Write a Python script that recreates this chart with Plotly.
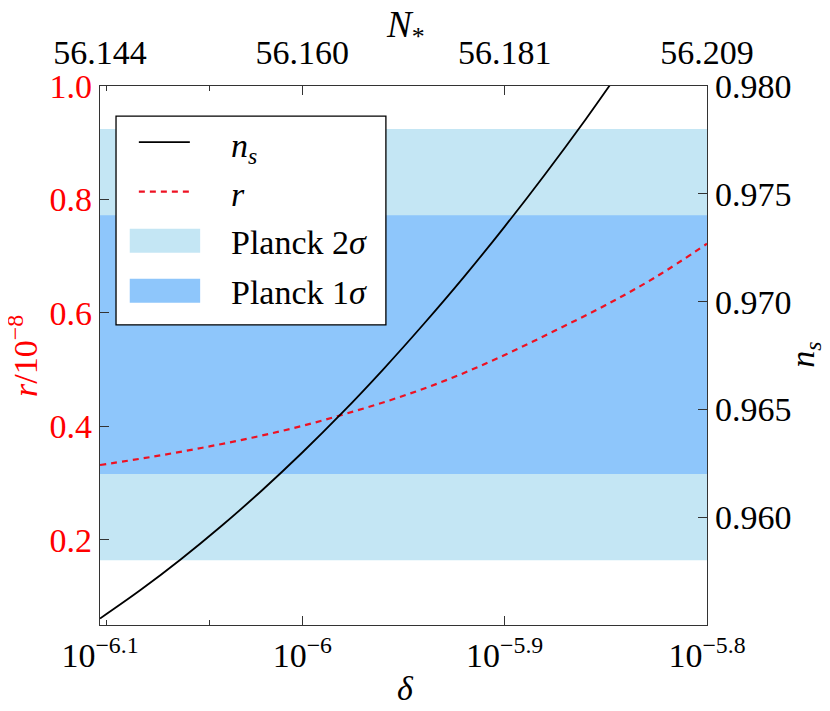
import plotly.graph_objects as go

# --- data ------------------------------------------------------------------
log_delta_ns = [-6.10, -6.08, -6.06, -6.04, -6.02, -6.00, -5.98, -5.96, -5.94,
                -5.92, -5.90, -5.88, -5.86, -5.848]
ns_values = [0.95530, 0.95662, 0.95805, 0.95959, 0.96124, 0.96300, 0.96487, 0.96686,
             0.96896, 0.97116, 0.97348, 0.97591, 0.97845, 0.98004]

log_delta_r = [-6.10, -6.075, -6.05, -6.025, -6.00, -5.975, -5.95, -5.925, -5.90,
               -5.875, -5.85, -5.825, -5.80]
r_values = [0.332, 0.346, 0.362, 0.380, 0.401, 0.426, 0.454, 0.487, 0.526,
            0.569, 0.614, 0.664, 0.722]

planck_2sigma = [0.958, 0.978]
planck_1sigma = [0.962, 0.974]

x_ticks_log = [-6.1, -6.0, -5.9, -5.8]
x_tick_labels = ["10<sup>−6.1</sup>", "10<sup>−6</sup>", "10<sup>−5.9</sup>", "10<sup>−5.8</sup>"]
n_star_labels = ["56.144", "56.160", "56.181", "56.209"]
x_minor = [8e-7, 9e-7]

r_ticks = [0.2, 0.4, 0.6, 0.8, 1.0]
ns_ticks = [0.960, 0.965, 0.970, 0.975, 0.980]

FONT = "Liberation Serif"
FS = 34
C_2S = "#c4e6f4"
C_1S = "#8ec6fb"
RED = "#ee1122"
AX = "#333333"

delta_ns = [10 ** v for v in log_delta_ns]
delta_r = [10 ** v for v in log_delta_r]
x_tickvals = [10 ** v for v in x_ticks_log]

fig = go.Figure()
fig.add_trace(go.Scatter(x=delta_ns, y=ns_values, mode="lines", yaxis="y2",
                         line=dict(color="black", width=1.8, shape="spline"),
                         showlegend=False))
fig.add_trace(go.Scatter(x=delta_r, y=r_values, mode="lines", yaxis="y",
                         line=dict(color=RED, width=2.2, dash="6px,5px", shape="spline"),
                         showlegend=False))
# invisible trace so the top axis is drawn
fig.add_trace(go.Scatter(x=x_tickvals, y=[None] * 4, xaxis="x2", yaxis="y",
                         showlegend=False, hoverinfo="skip"))

shapes = []
# Planck bands on the n_s axis
for band, col in [(planck_2sigma, C_2S), (planck_1sigma, C_1S)]:
    shapes.append(dict(type="rect", xref="paper", yref="y2", x0=0, x1=1,
                       y0=band[0], y1=band[1], fillcolor=col, line_width=0, layer="below"))

# hand-drawn legend (matplotlib style box)
shapes.append(dict(type="rect", xref="paper", yref="paper", x0=0.0264, x1=0.471,
                   y0=0.557, y1=0.944, fillcolor="white", line=dict(color="black", width=1.3)))
shapes.append(dict(type="line", xref="paper", yref="paper", x0=0.064, x1=0.148,
                   y0=0.896, y1=0.896, line=dict(color="black", width=1.8)))
shapes.append(dict(type="line", xref="paper", yref="paper", x0=0.064, x1=0.148,
                   y0=0.804, y1=0.804, line=dict(color=RED, width=2.2, dash="6px,5px")))
shapes.append(dict(type="rect", xref="paper", yref="paper", x0=0.049, x1=0.165,
                   y0=0.6905, y1=0.735, fillcolor=C_2S, line_width=0))
shapes.append(dict(type="rect", xref="paper", yref="paper", x0=0.049, x1=0.165,
                   y0=0.598, y1=0.6423, fillcolor=C_1S, line_width=0))

legend_text = ["<i>n<sub>s</sub></i>", "<i>r</i>", "Planck 2<i>σ</i>", "Planck 1<i>σ</i>"]
legend_y = [0.885, 0.798, 0.709, 0.617]
annotations = [dict(text=t, x=0.2126, y=yy, xref="paper", yref="paper", xanchor="left",
                    yanchor="middle", showarrow=False, font=dict(family=FONT, size=FS, color="black"))
               for t, yy in zip(legend_text, legend_y)]

# axis titles placed by hand
annotations += [
    dict(text="<i>N</i><sub>*</sub>", x=0.503, y=1.108, xref="paper", yref="paper",
         showarrow=False, xanchor="center", yanchor="middle", font=dict(size=37)),
    dict(text="<i>δ</i>", x=0.503, y=-0.117, xref="paper", yref="paper",
         showarrow=False, xanchor="center", yanchor="middle"),
    dict(text="<i>r</i>/10<sup>−8</sup>", x=-0.127, y=0.499, xref="paper", yref="paper",
         showarrow=False, xanchor="center", yanchor="middle", textangle=-90,
         font=dict(color="red")),
    dict(text="<i>n<sub>s</sub></i>", x=1.161, y=0.501, xref="paper", yref="paper",
         showarrow=False, xanchor="center", yanchor="middle", textangle=-90),
]

axis_common = dict(showline=True, linecolor=AX, linewidth=1.3, ticks="inside", ticklen=9,
                   tickcolor=AX, showgrid=False, zeroline=False, automargin=False)

# the page body adds an 8px offset, so the figure is shifted back by that much
fig.update_layout(
    width=822, height=703, autosize=False,
    margin=dict(l=92, r=123, t=78, b=86),
    paper_bgcolor="white", plot_bgcolor="white",
    font=dict(family=FONT, size=FS, color="black"),
    shapes=shapes, annotations=annotations,
    xaxis=dict(type="log", range=[-6.1, -5.8], tickvals=x_tickvals, ticktext=x_tick_labels,
               minor=dict(tickvals=x_minor, ticks="inside", ticklen=5, tickcolor=AX),
               **axis_common),
    xaxis2=dict(type="log", range=[-6.1, -5.8], overlaying="x", side="top", anchor="y",
                tickvals=x_tickvals, ticktext=n_star_labels, ticklabelstandoff=7,
                minor=dict(tickvals=x_minor, ticks="inside", ticklen=5, tickcolor=AX),
                **axis_common),
    yaxis=dict(range=[0.05, 1.0], tickvals=r_ticks, tickformat=".1f",
               tickfont=dict(color="red"), **axis_common),
    yaxis2=dict(range=[0.955, 0.980], tickvals=ns_ticks, tickformat=".3f",
                overlaying="y", side="right", anchor="x", **axis_common),
)

fig.write_html("out.html")
